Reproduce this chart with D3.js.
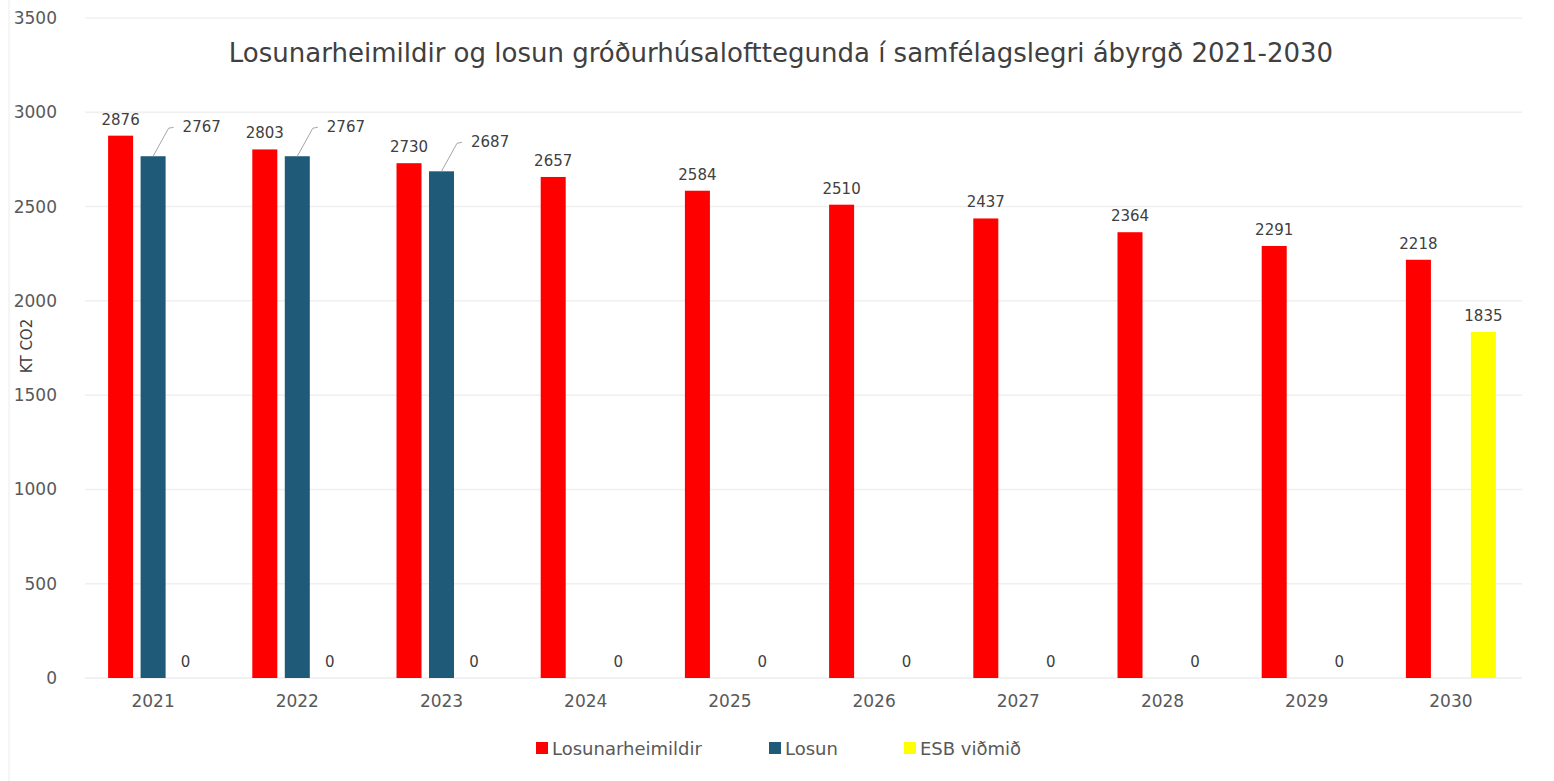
<!DOCTYPE html>
<html><head><meta charset="utf-8">
<script src="https://cdn.jsdelivr.net/npm/d3@7"></script>
<style>body{margin:0;background:#fff;overflow:hidden} text{font-family:"DejaVu Sans",sans-serif;}</style>
</head><body><svg id="c" width="1554" height="781"></svg>
<script>
const years = ["2021","2022","2023","2024","2025","2026","2027","2028","2029","2030"];
const seriesNames = ["Losunarheimildir","Losun","ESB viðmið"];
const seriesColors = ["#ff0000","#1f5b79","#ffff00"];
const heimildir = [2876,2803,2730,2657,2584,2510,2437,2364,2291,2218];
const losun = [2767,2767,2687,null,null,null,null,null,null,null];
const esb = [0,0,0,0,0,0,0,0,0,1835];
const yTicks = [0,500,1000,1500,2000,2500,3000,3500];
const chartTitle = "Losunarheimildir og losun gróðurhúsalofttegunda í samfélagslegri ábyrgð 2021-2030";
const yLabel = "KT CO2";

const seriesValues = [heimildir, losun, esb];
const svg = d3.select("#c");

const x0 = d3.scaleBand().domain(years).range([81,1523]).paddingInner(0.324).paddingOuter(0.162);
const x1 = d3.scaleBand().domain(seriesNames).range([0,x0.bandwidth()]).paddingInner(0.23).paddingOuter(0.115);
const y = d3.scaleLinear().domain([0,3500]).range([678,18]);

// frame line at left
svg.append("line").attr("x1",9).attr("x2",9).attr("y1",0).attr("y2",781).attr("stroke","#ececec");

// gridlines
svg.append("g").selectAll("line").data(yTicks.filter(d=>d>0)).join("line")
  .attr("x1",85).attr("x2",1522).attr("y1",d=>y(d)).attr("y2",d=>y(d))
  .attr("stroke","#f0f0f0").attr("stroke-width",1.5);

// y axis labels
const yAxis = d3.axisLeft(y).tickValues(yTicks).tickFormat(d3.format("d")).tickSize(0).tickPadding(0);
const yg = svg.append("g").attr("transform","translate(57,0)").call(yAxis);
yg.select(".domain").remove();
yg.selectAll("text").attr("font-size",17).attr("fill","#595959");

// baseline
svg.append("line").attr("x1",85).attr("x2",1522).attr("y1",y(0)).attr("y2",y(0)).attr("stroke","#e4e4e4");

// x axis labels
const xAxis = d3.axisBottom(x0).tickSize(0).tickPadding(17);
const xg = svg.append("g").attr("transform",`translate(0,${y(0)})`).call(xAxis);
xg.select(".domain").remove();
xg.selectAll("text").attr("font-size",17).attr("fill","#595959");

// bars
const rows = [];
years.forEach((yr,i)=>{
  seriesNames.forEach((s,j)=>{
    const v = seriesValues[j][i];
    if (v !== null) rows.push({yr, s, j, v});
  });
});
svg.append("g").selectAll("rect").data(rows.filter(d=>d.v>0)).join("rect")
  .attr("x",d=>x0(d.yr)+x1(d.s)).attr("width",x1.bandwidth())
  .attr("y",d=>y(d.v)).attr("height",d=>y(0)-y(d.v))
  .attr("fill",d=>seriesColors[d.j]);

// data labels
const lab = svg.append("g").attr("font-size",15).attr("fill","#404040");
rows.filter(d=>d.j!==1).forEach(d=>{
  lab.append("text").attr("x",x0(d.yr)+x1(d.s)+x1.bandwidth()/2).attr("y",y(d.v)-11)
    .attr("text-anchor","middle").text(d.v);
});
rows.filter(d=>d.j===1).forEach(d=>{
  const bx = x0(d.yr)+x1(d.s), bw = x1.bandwidth(), top = y(d.v);
  lab.append("path").attr("d",`M${bx+bw/2},${top} L${bx+bw+3},${top-28} L${bx+bw+8},${top-29}`)
    .attr("fill","none").attr("stroke","#a6a6a6").attr("stroke-width",1);
  lab.append("text").attr("x",bx+bw+17).attr("y",top-24).text(d.v);
});

// title
svg.append("text").attr("x",781).attr("y",62).attr("text-anchor","middle")
  .attr("font-size",26).attr("fill","#404040").text(chartTitle);

// y label
svg.append("text").attr("transform","translate(32,346) rotate(-90)").attr("text-anchor","middle")
  .attr("font-size",15).attr("fill","#404040").text(yLabel);

// legend
const legX = [536,769,904];
const lg = svg.append("g");
seriesNames.forEach((s,j)=>{
  lg.append("rect").attr("x",legX[j]).attr("y",742).attr("width",12).attr("height",12).attr("fill",seriesColors[j]);
  lg.append("text").attr("x",legX[j]+16).attr("y",755).attr("font-size",18).attr("fill","#595959").text(s);
});
</script></body></html>
